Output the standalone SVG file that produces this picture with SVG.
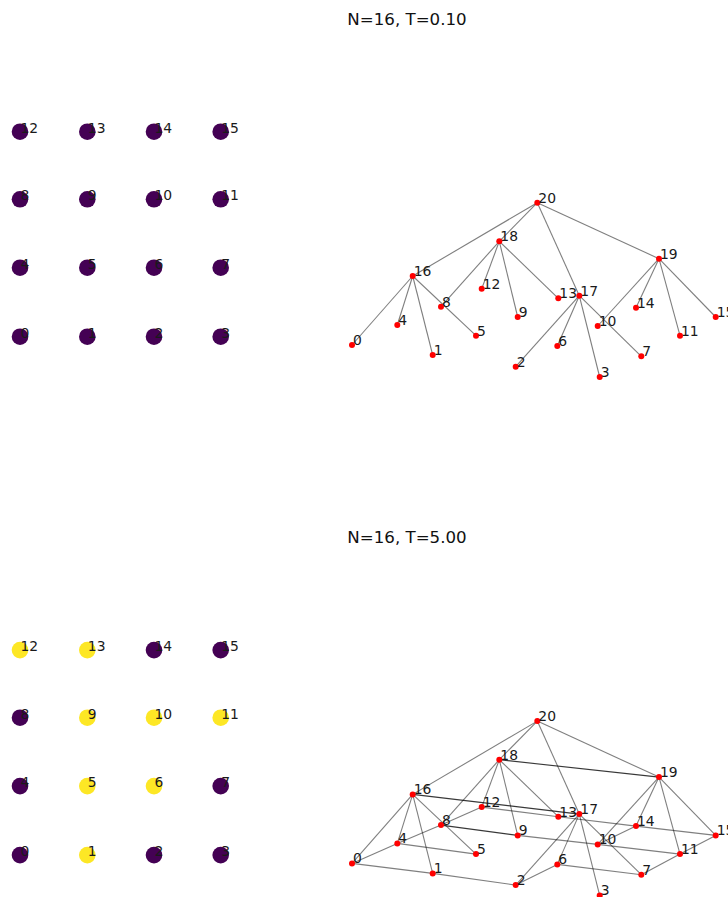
<svg xmlns="http://www.w3.org/2000/svg" width="728" height="897" viewBox="0 0 728 897">
<style>
text{font-family:"DejaVu Sans","Liberation Sans",sans-serif;font-size:13.9px;fill:#1a1a1a}
.title{font-size:16.67px;text-anchor:middle;fill:#111}
.p{fill:#440154}
.y{fill:#fde725}
.g{r:8.3px}
.n{fill:#ff0000}
.e{stroke:#000;stroke-opacity:0.5;stroke-width:1.1;fill:none}
.d{stroke:#000;stroke-opacity:0.78;stroke-width:1.1;fill:none}
</style>
<rect width="728" height="897" fill="#fff"/>
<text class="title" x="407" y="25">N=16, T=0.10</text>
<text class="title" x="407" y="543.4">N=16, T=5.00</text>

<!-- top grid -->
<g id="grid-top">
<g id="gt12"><circle class="p" cx="20" cy="131.7" r="8.3"/><text x="20.5" y="132.7">12</text></g>
<g id="gt13"><circle class="p" cx="87.3" cy="131.7" r="8.3"/><text x="87.8" y="132.7">13</text></g>
<g id="gt14"><circle class="p" cx="154" cy="131.7" r="8.3"/><text x="154.5" y="132.7">14</text></g>
<g id="gt15"><circle class="p" cx="220.7" cy="131.7" r="8.3"/><text x="221.2" y="132.7">15</text></g>
<g id="gt8"><circle class="p" cx="20" cy="199.3" r="8.3"/><text x="20.5" y="200.3">8</text></g>
<g id="gt9"><circle class="p" cx="87.3" cy="199.3" r="8.3"/><text x="87.8" y="200.3">9</text></g>
<g id="gt10"><circle class="p" cx="154" cy="199.3" r="8.3"/><text x="154.5" y="200.3">10</text></g>
<g id="gt11"><circle class="p" cx="220.7" cy="199.3" r="8.3"/><text x="221.2" y="200.3">11</text></g>
<g id="gt4"><circle class="p" cx="20" cy="267.7" r="8.3"/><text x="20.5" y="268.7">4</text></g>
<g id="gt5"><circle class="p" cx="87.3" cy="267.7" r="8.3"/><text x="87.8" y="268.7">5</text></g>
<g id="gt6"><circle class="p" cx="154" cy="267.7" r="8.3"/><text x="154.5" y="268.7">6</text></g>
<g id="gt7"><circle class="p" cx="220.7" cy="267.7" r="8.3"/><text x="221.2" y="268.7">7</text></g>
<g id="gt0"><circle class="p" cx="20" cy="336.7" r="8.3"/><text x="20.5" y="337.7">0</text></g>
<g id="gt1"><circle class="p" cx="87.3" cy="336.7" r="8.3"/><text x="87.8" y="337.7">1</text></g>
<g id="gt2"><circle class="p" cx="154" cy="336.7" r="8.3"/><text x="154.5" y="337.7">2</text></g>
<g id="gt3"><circle class="p" cx="220.7" cy="336.7" r="8.3"/><text x="221.2" y="337.7">3</text></g>
</g>

<!-- bottom grid -->
<g id="grid-bottom">
<g id="gb12"><circle class="y" cx="20" cy="650.1" r="8.3"/><text x="20.5" y="651.1">12</text></g>
<g id="gb13"><circle class="y" cx="87.3" cy="650.1" r="8.3"/><text x="87.8" y="651.1">13</text></g>
<g id="gb14"><circle class="p" cx="154" cy="650.1" r="8.3"/><text x="154.5" y="651.1">14</text></g>
<g id="gb15"><circle class="p" cx="220.7" cy="650.1" r="8.3"/><text x="221.2" y="651.1">15</text></g>
<g id="gb8"><circle class="p" cx="20" cy="717.7" r="8.3"/><text x="20.5" y="718.7">8</text></g>
<g id="gb9"><circle class="y" cx="87.3" cy="717.7" r="8.3"/><text x="87.8" y="718.7">9</text></g>
<g id="gb10"><circle class="y" cx="154" cy="717.7" r="8.3"/><text x="154.5" y="718.7">10</text></g>
<g id="gb11"><circle class="y" cx="220.7" cy="717.7" r="8.3"/><text x="221.2" y="718.7">11</text></g>
<g id="gb4"><circle class="p" cx="20" cy="786.1" r="8.3"/><text x="20.5" y="787.1">4</text></g>
<g id="gb5"><circle class="y" cx="87.3" cy="786.1" r="8.3"/><text x="87.8" y="787.1">5</text></g>
<g id="gb6"><circle class="y" cx="154" cy="786.1" r="8.3"/><text x="154.5" y="787.1">6</text></g>
<g id="gb7"><circle class="p" cx="220.7" cy="786.1" r="8.3"/><text x="221.2" y="787.1">7</text></g>
<g id="gb0"><circle class="p" cx="20" cy="855.1" r="8.3"/><text x="20.5" y="856.1">0</text></g>
<g id="gb1"><circle class="y" cx="87.3" cy="855.1" r="8.3"/><text x="87.8" y="856.1">1</text></g>
<g id="gb2"><circle class="p" cx="154" cy="855.1" r="8.3"/><text x="154.5" y="856.1">2</text></g>
<g id="gb3"><circle class="p" cx="220.7" cy="855.1" r="8.3"/><text x="221.2" y="856.1">3</text></g>
</g>

<!-- top graph connectors -->
<g id="edges-top">
<line class="e" x1="537.3" y1="202.7" x2="412.7" y2="276"/>
<line class="e" x1="537.3" y1="202.7" x2="499.3" y2="241.3"/>
<line class="e" x1="537.3" y1="202.7" x2="579.3" y2="295.7"/>
<line class="e" x1="537.3" y1="202.7" x2="659" y2="258.7"/>
<line class="e" x1="412.7" y1="276" x2="352" y2="345"/>
<line class="e" x1="412.7" y1="276" x2="397.3" y2="325"/>
<line class="e" x1="412.7" y1="276" x2="432.7" y2="355"/>
<line class="e" x1="412.7" y1="276" x2="476" y2="335.7"/>
<line class="e" x1="499.3" y1="241.3" x2="441" y2="306.7"/>
<line class="e" x1="499.3" y1="241.3" x2="481.7" y2="288.7"/>
<line class="e" x1="499.3" y1="241.3" x2="517.7" y2="317"/>
<line class="e" x1="499.3" y1="241.3" x2="558.3" y2="298.3"/>
<line class="e" x1="579.3" y1="295.7" x2="515.7" y2="366.7"/>
<line class="e" x1="579.3" y1="295.7" x2="557.3" y2="346"/>
<line class="e" x1="579.3" y1="295.7" x2="599.7" y2="377"/>
<line class="e" x1="579.3" y1="295.7" x2="641.3" y2="356.3"/>
<line class="e" x1="659" y1="258.7" x2="597.7" y2="326"/>
<line class="e" x1="659" y1="258.7" x2="636" y2="307.7"/>
<line class="e" x1="659" y1="258.7" x2="680" y2="335.7"/>
<line class="e" x1="659" y1="258.7" x2="715.7" y2="317"/>
</g>

<!-- bottom graph connectors -->
<g id="edges-bottom">
<line class="e" x1="537.3" y1="721.1" x2="412.7" y2="794.4"/>
<line class="e" x1="537.3" y1="721.1" x2="499.3" y2="759.7"/>
<line class="e" x1="537.3" y1="721.1" x2="579.3" y2="814.1"/>
<line class="e" x1="537.3" y1="721.1" x2="659" y2="777.1"/>
<line class="e" x1="412.7" y1="794.4" x2="352" y2="863.4"/>
<line class="e" x1="412.7" y1="794.4" x2="397.3" y2="843.4"/>
<line class="e" x1="412.7" y1="794.4" x2="432.7" y2="873.4"/>
<line class="e" x1="412.7" y1="794.4" x2="476" y2="854.1"/>
<line class="e" x1="499.3" y1="759.7" x2="441" y2="825.1"/>
<line class="e" x1="499.3" y1="759.7" x2="481.7" y2="807.1"/>
<line class="e" x1="499.3" y1="759.7" x2="517.7" y2="835.4"/>
<line class="e" x1="499.3" y1="759.7" x2="558.3" y2="816.7"/>
<line class="e" x1="579.3" y1="814.1" x2="515.7" y2="885.1"/>
<line class="e" x1="579.3" y1="814.1" x2="557.3" y2="864.4"/>
<line class="e" x1="579.3" y1="814.1" x2="599.7" y2="895.4"/>
<line class="e" x1="579.3" y1="814.1" x2="641.3" y2="874.7"/>
<line class="e" x1="659" y1="777.1" x2="597.7" y2="844.4"/>
<line class="e" x1="659" y1="777.1" x2="636" y2="826.1"/>
<line class="e" x1="659" y1="777.1" x2="680" y2="854.1"/>
<line class="e" x1="659" y1="777.1" x2="715.7" y2="835.4"/>
<!-- lattice / extra edges -->
<line class="e" x1="352" y1="863.4" x2="432.7" y2="873.4"/>
<line class="e" x1="432.7" y1="873.4" x2="515.7" y2="885.1"/>
<line class="e" x1="352" y1="863.4" x2="397.3" y2="843.4"/>
<line class="e" x1="397.3" y1="843.4" x2="476" y2="854.1"/>
<line class="e" x1="397.3" y1="843.4" x2="441" y2="825.1"/>
<line class="e" x1="441" y1="825.1" x2="481.7" y2="807.1"/>
<line class="d" x1="441" y1="825.1" x2="517.7" y2="835.4"/>
<line class="e" x1="517.7" y1="835.4" x2="597.7" y2="844.4"/>
<line class="e" x1="597.7" y1="844.4" x2="680" y2="854.1"/>
<line class="e" x1="481.7" y1="807.1" x2="558.3" y2="816.7"/>
<line class="e" x1="558.3" y1="816.7" x2="636" y2="826.1"/>
<line class="e" x1="636" y1="826.1" x2="715.7" y2="835.4"/>
<line class="e" x1="515.7" y1="885.1" x2="557.3" y2="864.4"/>
<line class="e" x1="557.3" y1="864.4" x2="641.3" y2="874.7"/>
<line class="e" x1="641.3" y1="874.7" x2="680" y2="854.1"/>
<line class="e" x1="680" y1="854.1" x2="715.7" y2="835.4"/>
<line class="e" x1="597.7" y1="844.4" x2="636" y2="826.1"/>
<line class="d" x1="412.7" y1="794.4" x2="579.3" y2="814.1"/>
<line class="d" x1="499.3" y1="759.7" x2="659" y2="777.1"/>
</g>

<!-- top graph nodes -->
<g id="graph-top">
<g id="t0"><circle class="n" cx="352" cy="345" r="3"/><text x="353" y="345">0</text></g>
<g id="t1"><circle class="n" cx="432.7" cy="355" r="3"/><text x="433.7" y="355">1</text></g>
<g id="t2"><circle class="n" cx="515.7" cy="366.7" r="3"/><text x="516.7" y="366.7">2</text></g>
<g id="t3"><circle class="n" cx="599.7" cy="377" r="3"/><text x="600.7" y="377">3</text></g>
<g id="t4"><circle class="n" cx="397.3" cy="325" r="3"/><text x="398.3" y="325">4</text></g>
<g id="t5"><circle class="n" cx="476" cy="335.7" r="3"/><text x="477" y="335.7">5</text></g>
<g id="t6"><circle class="n" cx="557.3" cy="346" r="3"/><text x="558.3" y="346">6</text></g>
<g id="t7"><circle class="n" cx="641.3" cy="356.3" r="3"/><text x="642.3" y="356.3">7</text></g>
<g id="t8"><circle class="n" cx="441" cy="306.7" r="3"/><text x="442" y="306.7">8</text></g>
<g id="t9"><circle class="n" cx="517.7" cy="317" r="3"/><text x="518.7" y="317">9</text></g>
<g id="t10"><circle class="n" cx="597.7" cy="326" r="3"/><text x="598.7" y="326">10</text></g>
<g id="t11"><circle class="n" cx="680" cy="335.7" r="3"/><text x="681" y="335.7">11</text></g>
<g id="t12"><circle class="n" cx="481.7" cy="288.7" r="3"/><text x="482.7" y="288.7">12</text></g>
<g id="t13"><circle class="n" cx="558.3" cy="298.3" r="3"/><text x="559.3" y="298.3">13</text></g>
<g id="t14"><circle class="n" cx="636" cy="307.7" r="3"/><text x="637" y="307.7">14</text></g>
<g id="t15"><circle class="n" cx="715.7" cy="317" r="3"/><text x="716.7" y="317">15</text></g>
<g id="t16"><circle class="n" cx="412.7" cy="276" r="3"/><text x="413.7" y="276">16</text></g>
<g id="t17"><circle class="n" cx="579.3" cy="295.7" r="3"/><text x="580.3" y="295.7">17</text></g>
<g id="t18"><circle class="n" cx="499.3" cy="241.3" r="3"/><text x="500.3" y="241.3">18</text></g>
<g id="t19"><circle class="n" cx="659" cy="258.7" r="3"/><text x="660" y="258.7">19</text></g>
<g id="t20"><circle class="n" cx="537.3" cy="202.7" r="3"/><text x="538.3" y="202.7">20</text></g>
</g>

<!-- bottom graph nodes -->
<g id="graph-bottom">
<g id="b0"><circle class="n" cx="352" cy="863.4" r="3"/><text x="353" y="863.4">0</text></g>
<g id="b1"><circle class="n" cx="432.7" cy="873.4" r="3"/><text x="433.7" y="873.4">1</text></g>
<g id="b2"><circle class="n" cx="515.7" cy="885.1" r="3"/><text x="516.7" y="885.1">2</text></g>
<g id="b3"><circle class="n" cx="599.7" cy="895.4" r="3"/><text x="600.7" y="895.4">3</text></g>
<g id="b4"><circle class="n" cx="397.3" cy="843.4" r="3"/><text x="398.3" y="843.4">4</text></g>
<g id="b5"><circle class="n" cx="476" cy="854.1" r="3"/><text x="477" y="854.1">5</text></g>
<g id="b6"><circle class="n" cx="557.3" cy="864.4" r="3"/><text x="558.3" y="864.4">6</text></g>
<g id="b7"><circle class="n" cx="641.3" cy="874.7" r="3"/><text x="642.3" y="874.7">7</text></g>
<g id="b8"><circle class="n" cx="441" cy="825.1" r="3"/><text x="442" y="825.1">8</text></g>
<g id="b9"><circle class="n" cx="517.7" cy="835.4" r="3"/><text x="518.7" y="835.4">9</text></g>
<g id="b10"><circle class="n" cx="597.7" cy="844.4" r="3"/><text x="598.7" y="844.4">10</text></g>
<g id="b11"><circle class="n" cx="680" cy="854.1" r="3"/><text x="681" y="854.1">11</text></g>
<g id="b12"><circle class="n" cx="481.7" cy="807.1" r="3"/><text x="482.7" y="807.1">12</text></g>
<g id="b13"><circle class="n" cx="558.3" cy="816.7" r="3"/><text x="559.3" y="816.7">13</text></g>
<g id="b14"><circle class="n" cx="636" cy="826.1" r="3"/><text x="637" y="826.1">14</text></g>
<g id="b15"><circle class="n" cx="715.7" cy="835.4" r="3"/><text x="716.7" y="835.4">15</text></g>
<g id="b16"><circle class="n" cx="412.7" cy="794.4" r="3"/><text x="413.7" y="794.4">16</text></g>
<g id="b17"><circle class="n" cx="579.3" cy="814.1" r="3"/><text x="580.3" y="814.1">17</text></g>
<g id="b18"><circle class="n" cx="499.3" cy="759.7" r="3"/><text x="500.3" y="759.7">18</text></g>
<g id="b19"><circle class="n" cx="659" cy="777.1" r="3"/><text x="660" y="777.1">19</text></g>
<g id="b20"><circle class="n" cx="537.3" cy="721.1" r="3"/><text x="538.3" y="721.1">20</text></g>
</g>
</svg>
